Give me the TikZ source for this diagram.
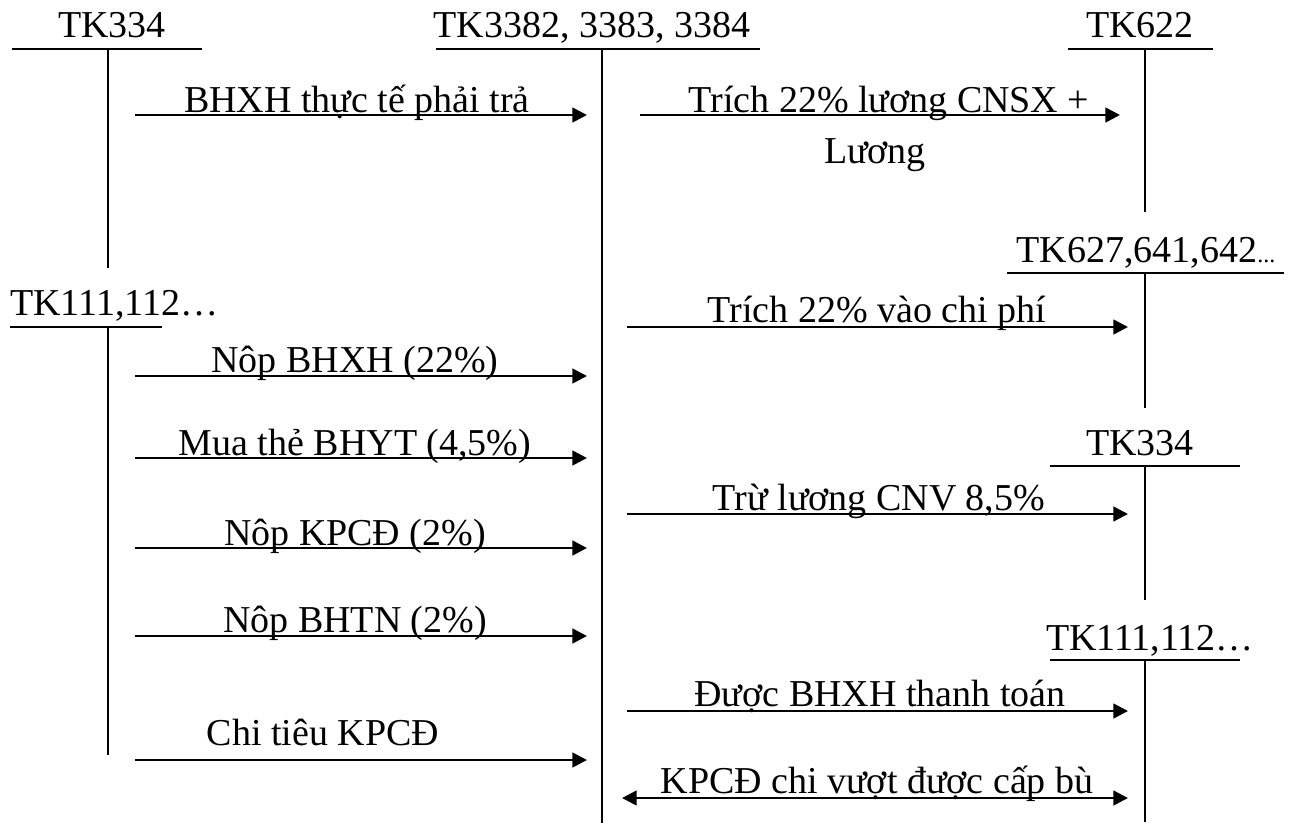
\documentclass[tikz,border=0pt]{standalone}
\usepackage{fontspec}
\setmainfont{Liberation Serif}
\usetikzlibrary{arrows.meta}
\begin{document}
\begin{tikzpicture}[x=0.75pt,y=-0.75pt,
 acct/.style={anchor=base,inner sep=0pt,font=\fontsize{28.5}{34}\selectfont},
 lbl/.style={anchor=base,inner sep=0pt,font=\fontsize{28.5}{34}\selectfont},
 bar/.style={line width=1.7pt},
 stem/.style={line width=1.3pt},
 flow/.style={line width=1.9pt,-{Triangle[length=11pt,width=11pt]}},
 flowboth/.style={line width=1.9pt,{Triangle[length=11pt,width=11pt]}-{Triangle[length=11pt,width=11pt]}}]
\useasboundingbox (0,0) rectangle (1294,826);

% ---- accounts ----
\node[acct] (a1) at (112,37) {TK334};
\coordinate (a1l) at (12,49); \coordinate (a1r) at (202,49);
\coordinate (a1t) at (108,49); \coordinate (a1b) at (108,268);
\draw[bar] (a1l) -- (a1r); \draw[stem] (a1t) -- (a1b);

\node[acct] (a2) at (592,37) {TK3382, 3383, 3384};
\coordinate (a2l) at (436,49); \coordinate (a2r) at (760,49);
\coordinate (a2t) at (602,49); \coordinate (a2b) at (602,823);
\draw[bar] (a2l) -- (a2r); \draw[stem] (a2t) -- (a2b);

\node[acct] (a3) at (1140,37) {TK622};
\coordinate (a3l) at (1068,49); \coordinate (a3r) at (1213,49);
\coordinate (a3t) at (1145,49); \coordinate (a3b) at (1145,212);
\draw[bar] (a3l) -- (a3r); \draw[stem] (a3t) -- (a3b);

\node[acct] (a4) at (1146,262) {TK627,641,642{\fontsize{18}{20}\selectfont...}};
\coordinate (a4l) at (1007,273); \coordinate (a4r) at (1284,273);
\coordinate (a4t) at (1145,273); \coordinate (a4b) at (1145,408);
\draw[bar] (a4l) -- (a4r); \draw[stem] (a4t) -- (a4b);

\node[acct,anchor=base west] (a5) at (10,315) {TK111,112…};
\coordinate (a5l) at (10,327); \coordinate (a5r) at (162,327);
\coordinate (a5t) at (108,327); \coordinate (a5b) at (108,755);
\draw[bar] (a5l) -- (a5r); \draw[stem] (a5t) -- (a5b);

\node[acct] (a6) at (1140,455) {TK334};
\coordinate (a6l) at (1050,466); \coordinate (a6r) at (1240,466);
\coordinate (a6t) at (1145,466); \coordinate (a6b) at (1145,600);
\draw[bar] (a6l) -- (a6r); \draw[stem] (a6t) -- (a6b);

\node[acct] (a7) at (1150,650) {TK111,112…};
\coordinate (a7l) at (1050,660); \coordinate (a7r) at (1240,660);
\coordinate (a7t) at (1145,660); \coordinate (a7b) at (1145,822);
\draw[bar] (a7l) -- (a7r); \draw[stem] (a7t) -- (a7b);

% ---- left flows ----
\coordinate (l1s) at (135,115); \coordinate (l1e) at (587,115);
\draw[flow] (l1s) -- (l1e);
\node[lbl] (t1) at (357,112) {BHXH thực tế phải trả};

\coordinate (l2s) at (135,376); \coordinate (l2e) at (587,376);
\draw[flow] (l2s) -- (l2e);
\node[lbl] (t2) at (355,372) {Nôp BHXH (22\%)};

\coordinate (l3s) at (135,458); \coordinate (l3e) at (587,458);
\draw[flow] (l3s) -- (l3e);
\node[lbl] (t3) at (355,455) {Mua thẻ BHYT (4,5\%)};

\coordinate (l4s) at (135,548); \coordinate (l4e) at (587,548);
\draw[flow] (l4s) -- (l4e);
\node[lbl] (t4) at (355,545) {Nôp KPCĐ (2\%)};

\coordinate (l5s) at (135,636); \coordinate (l5e) at (587,636);
\draw[flow] (l5s) -- (l5e);
\node[lbl] (t5) at (355,632) {Nôp BHTN (2\%)};

\coordinate (l6s) at (135,760); \coordinate (l6e) at (587,760);
\draw[flow] (l6s) -- (l6e);
\node[lbl] (t6) at (323,745) {Chi tiêu KPCĐ};

% ---- right flows ----
\coordinate (r1s) at (640,115); \coordinate (r1e) at (1120,115);
\draw[flow] (r1s) -- (r1e);
\node[lbl] (u1) at (889,112) {Trích 22\% lương CNSX +};
\node[lbl] (u1b) at (875,163) {Lương};

\coordinate (r2s) at (627,327); \coordinate (r2e) at (1128,327);
\draw[flow] (r2s) -- (r2e);
\node[lbl] (u2) at (877,322) {Trích 22\% vào chi phí};

\coordinate (r3s) at (627,514); \coordinate (r3e) at (1128,514);
\draw[flow] (r3s) -- (r3e);
\node[lbl] (u3) at (879,510) {Trừ lương CNV 8,5\%};

\coordinate (r4s) at (627,711); \coordinate (r4e) at (1128,711);
\draw[flow] (r4s) -- (r4e);
\node[lbl] (u4) at (880,706) {Được BHXH thanh toán};

\coordinate (r5s) at (622,798); \coordinate (r5e) at (1128,798);
\draw[flowboth] (r5s) -- (r5e);
\node[lbl] (u5) at (877,793) {KPCĐ chi vượt được cấp bù};
\end{tikzpicture}
\end{document}
